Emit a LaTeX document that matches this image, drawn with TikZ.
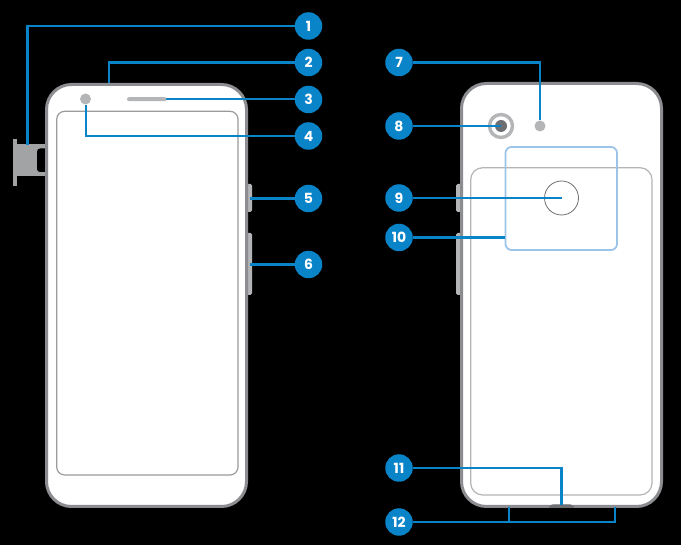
\documentclass[tikz,border=0pt]{standalone}
\usepackage{fontspec}
\setmainfont{Poppins}
\definecolor{leader}{HTML}{0A84C8}
\definecolor{body}{HTML}{8C8D90}
\definecolor{part}{HTML}{B4B5B7}
\definecolor{tray}{HTML}{A2A3A5}
\definecolor{screenline}{HTML}{9A9B9D}
\definecolor{zone}{HTML}{9CC4EA}
\definecolor{lens}{HTML}{6E6F72}
\tikzset{
  badge/.style={circle,fill=leader,text=white,minimum size=27.5pt,inner sep=0pt,font=\fontsize{14}{14}\selectfont\bfseries},
  lead/.style={draw=leader,line width=2.4pt},
  thinlead/.style={draw=leader,line width=2pt},
  phone/.style={draw=body,fill=white,line width=3pt,rounded corners=25pt},
  screen/.style={draw=screenline,line width=1.2pt,rounded corners=8pt},
  sidekey/.style={fill=part,rounded corners=1.5pt},
  dot/.style={circle,fill=part,inner sep=0pt,minimum size=11pt}
}
\begin{document}
\begin{tikzpicture}[x=1pt,y=-1pt]
\useasboundingbox (0,0) rectangle (681,545);
\fill[black] (0,0) rectangle (681,545);
% SIM tray
\fill[tray] (13,139) rectangle (16.5,186);
\fill[tray] (16,144.5) rectangle (46,176);
\fill[black,rounded corners=3pt] (37,148.5) rectangle (50,172);
% left phone side keys
\fill[sidekey] (244,184) rectangle (252,212);
\fill[sidekey] (244,233) rectangle (252,295);
% left phone
\draw[phone] (46.5,84.5) rectangle (246.5,506.5);
\draw[screen] (56.7,111.3) rectangle (238,475);
\node[dot] (frontcam) at (85.5,99) {};
\fill[part,rounded corners=2pt] (127,97.2) rectangle (166.5,101.2);
\coordinate (speaker) at (166,99.5);
% right phone side keys
\fill[sidekey] (456,184) rectangle (464,212);
\fill[sidekey] (456,233) rectangle (464,295);
% right phone
\draw[phone] (461.5,83.5) rectangle (661.5,506.5);
\draw[screen,draw=part,rounded corners=12pt] (470.7,167.7) rectangle (652,495);
\draw[part,line width=3.4pt] (501,126) circle (11.5);
\node[circle,fill=lens,inner sep=0pt,minimum size=12pt] (rearcam) at (501,126) {};
\node[dot] (flash) at (540,126) {};
\draw[zone,line width=1.8pt,rounded corners=6pt] (505.5,147) rectangle (617,250);
\node[circle,draw=lens,line width=.8pt,inner sep=0pt,minimum size=34pt] (finger) at (561.5,198) {};
\fill[lens,rounded corners=1.5pt] (548,508) -- (551,504.5) -- (572,504.5) -- (575,508) -- cycle;
% badges
\node[badge] (n1) at (308.5,26) {1};
\node[badge] (n2) at (308.5,62.5) {2};
\node[badge] (n3) at (308.5,99.5) {3};
\node[badge] (n4) at (308.5,136) {4};
\node[badge] (n5) at (308.5,198.5) {5};
\node[badge] (n6) at (308.5,264.5) {6};
\node[badge] (n7) at (399,62.5) {7};
\node[badge] (n8) at (399,126) {8};
\node[badge] (n9) at (399,198) {9};
\node[badge] (n10) at (399,237.5) {10};
\node[badge] (n11) at (399,468) {11};
\node[badge] (n12) at (399,522) {12};
% free ends
\coordinate (simtop) at (27.5,145);
\coordinate (micfront) at (109,83);
\coordinate (keyA) at (250,198.5);
\coordinate (keyB) at (250,264.5);
\coordinate (zoneedge) at (505,237.5);
\coordinate (port) at (561.5,505);
\coordinate (micB) at (509,507);
\coordinate (micC) at (615,507);
% leaders
\draw[lead] (n1) -| (simtop);
\draw[lead] (n2) -| (micfront);
\draw[thinlead] (n3) -- (speaker);
\draw[thinlead] (n4) -| (frontcam.south);
\draw[lead] (n5) -- (keyA);
\draw[lead] (n6) -- (keyB);
\draw[lead] (n7) -| (flash.north);
\draw[lead] (n8) -- (rearcam.center);
\draw[lead] (n9) -- (finger.center);
\draw[lead] (n10) -- (zoneedge);
\draw[lead] (n11) -| (port);
\draw[lead] (n12) -| (micC);
\draw[lead] (micB) -- (micB |- n12);
\end{tikzpicture}
\end{document}
